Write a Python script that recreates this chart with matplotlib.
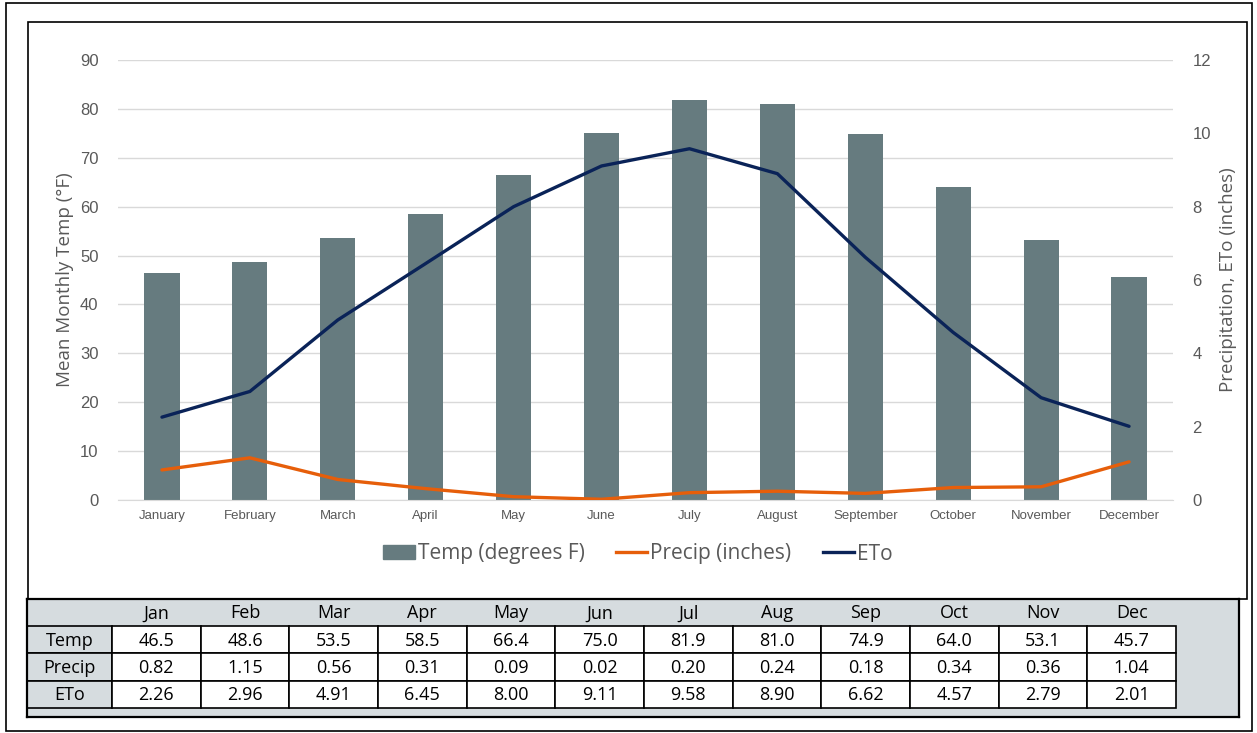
import matplotlib.pyplot as plt
from matplotlib.patches import Rectangle
from matplotlib.lines import Line2D
import numpy as np

plt.rcParams['font.family'] = ['Open Sans', 'DejaVu Sans']

# data
months = ['January', 'February', 'March', 'April', 'May', 'June', 'July',
          'August', 'September', 'October', 'November', 'December']
short = ['Jan', 'Feb', 'Mar', 'Apr', 'May', 'Jun', 'Jul', 'Aug', 'Sep', 'Oct', 'Nov', 'Dec']
temp = [46.5, 48.6, 53.5, 58.5, 66.4, 75.0, 81.9, 81.0, 74.9, 64.0, 53.1, 45.7]
precip = [0.82, 1.15, 0.56, 0.31, 0.09, 0.02, 0.20, 0.24, 0.18, 0.34, 0.36, 1.04]
eto = [2.26, 2.96, 4.91, 6.45, 8.00, 9.11, 9.58, 8.90, 6.62, 4.57, 2.79, 2.01]
row_names = ['Temp', 'Precip', 'ETo']

W, H = 1257, 733
fig = plt.figure(figsize=(W / 100, H / 100), dpi=100)

def fx(px):
    return px / W

def fy(py):
    return 1 - py / H

# borders
fig.patches.append(Rectangle((fx(6), fy(731)), fx(1252) - fx(6), fy(3) - fy(731),
                             transform=fig.transFigure, fill=False, ec='black', lw=1.2))
fig.patches.append(Rectangle((fx(28), fy(599)), fx(1247) - fx(28), fy(22) - fy(599),
                             transform=fig.transFigure, fill=False, ec='black', lw=1.2))

tick_font = ['Liberation Sans', 'DejaVu Sans']

x = np.arange(len(months))
ax = fig.add_axes([fx(118), fy(500), fx(1173) - fx(118), fy(60) - fy(500)])
ax.bar(x, temp, width=0.4, color='#667B7F', zorder=2)
ax.set_xlim(-0.5, 11.5)
ax.set_ylim(0, 90)
ax.set_yticks(range(0, 91, 10))
ax.set_xticks(x)
ax.set_xticklabels(months, fontsize=9.5, color='#595959', family=tick_font)
ax.tick_params(axis='y', labelsize=12, colors='#595959', length=0, pad=14)
for t in ax.get_yticklabels():
    t.set_family(tick_font)
ax.tick_params(axis='x', length=0, pad=7)
ax.grid(axis='y', color='#D9D9D9', lw=1, zorder=0)
ax.set_axisbelow(True)
for s in ax.spines.values():
    s.set_visible(False)
ax.spines['bottom'].set_visible(True)
ax.spines['bottom'].set_color('#D9D9D9')
ax.set_ylabel('Mean Monthly Temp (°F)', fontsize=13.5, color='#595959', labelpad=4)

ax2 = ax.twinx()
ax2.plot(x, precip, color='#E65E0A', lw=2.4, solid_capstyle='round', zorder=3)
ax2.plot(x, eto, color='#0A2358', lw=2.4, solid_capstyle='round', zorder=3)
ax2.set_ylim(0, 12)
ax2.set_yticks(range(0, 13, 2))
ax2.tick_params(axis='y', labelsize=12, colors='#595959', length=0, pad=14)
for t in ax2.get_yticklabels():
    t.set_family(tick_font)
for s in ax2.spines.values():
    s.set_visible(False)
ax2.set_ylabel('Precipitation, ETo (inches)', fontsize=13.5, color='#595959', labelpad=6)

handles = [Rectangle((0, 0), 1, 1, color='#667B7F'),
           Line2D([], [], color='#E65E0A', lw=2.4),
           Line2D([], [], color='#0A2358', lw=2.4)]
fig.legend(handles, ['Temp (degrees F)', 'Precip (inches)', 'ETo'],
           loc='center', bbox_to_anchor=(fx(638), fy(554)), ncol=3, frameon=False,
           fontsize=15, labelcolor='#595959', handlelength=1.5, handleheight=0.65,
           handletextpad=0.15, columnspacing=1.5)

# table drawn in pixel-like units
tax = fig.add_axes([fx(27), fy(717), fx(1239) - fx(27), fy(599) - fy(717)])
tax.set_xlim(27, 1239)
tax.set_ylim(717, 599)
tax.set_facecolor('#D6DCDF')
tax.set_xticks([])
tax.set_yticks([])
for s in tax.spines.values():
    s.set_linewidth(1.6)

lab_l, lab_r = 27, 112
col_w = (1176 - lab_r) / 12
head_top, row_h = 599, 27.3
head_h = 27
rows = [[f'{v:.1f}' for v in temp], [f'{v:.2f}' for v in precip], [f'{v:.2f}' for v in eto]]
tfs = 13

for j, name in enumerate(short):
    cx = lab_r + (j + 0.5) * col_w
    tax.text(cx, head_top + head_h / 2 + 1, name, ha='center', va='center', fontsize=tfs)

for i, (name, vals) in enumerate(zip(row_names, rows)):
    y0 = head_top + head_h + i * row_h
    tax.add_patch(Rectangle((lab_l, y0), lab_r - lab_l, row_h, fc='#D6DCDF', ec='black', lw=1.2))
    tax.text((lab_l + lab_r) / 2, y0 + row_h / 2 + 1, name, ha='center', va='center', fontsize=tfs)
    for j, v in enumerate(vals):
        x0 = lab_r + j * col_w
        tax.add_patch(Rectangle((x0, y0), col_w, row_h, fc='white', ec='black', lw=1.2))
        tax.text(x0 + col_w / 2, y0 + row_h / 2 + 1, v, ha='center', va='center', fontsize=tfs)

fig.savefig('out.png', dpi=100)
